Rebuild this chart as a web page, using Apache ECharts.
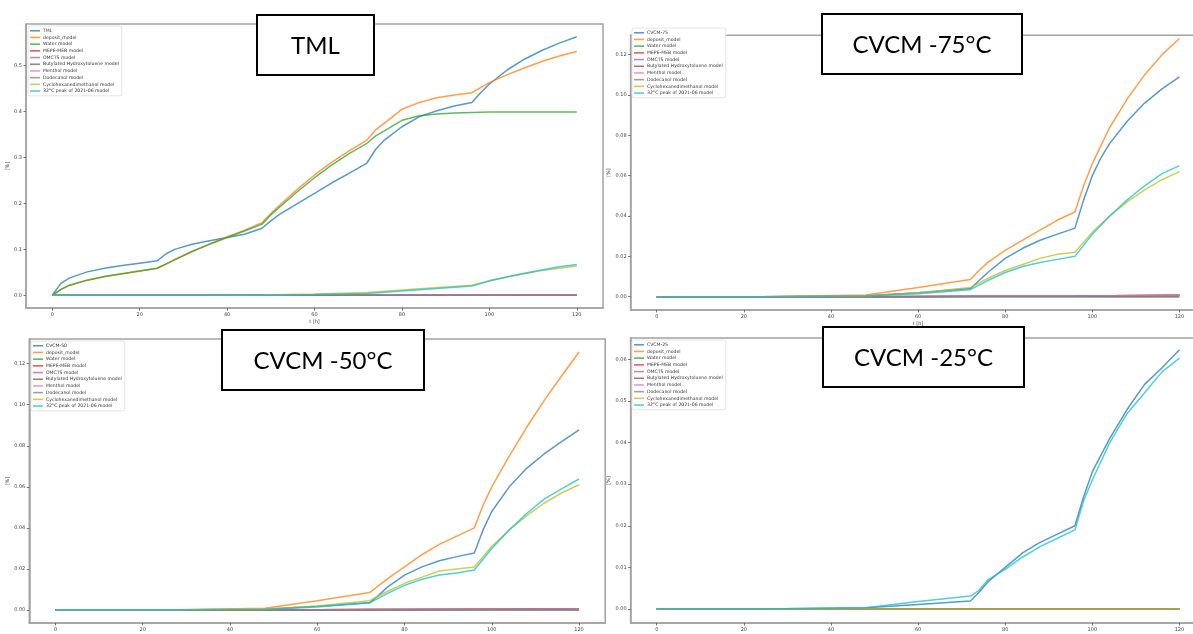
<!DOCTYPE html>
<html>
<head>
<meta charset="utf-8">
<script src="https://cdn.jsdelivr.net/npm/echarts@6/dist/echarts.min.js"></script>
<style>
  html, body { margin: 0; padding: 0; background: #ffffff; }
  #chart { width: 1193px; height: 634px; }
</style>
</head>
<body>
<div id="chart"></div>
<script>
// Model curve names shared by all four panels (after the measured curve)
const modelNames = [
  'deposit_model', 'Water model', 'MEPE-MEB model', 'OMCTS model',
  'Butylated Hydroxytoluene model', 'Menthol model', 'Dodecanol model',
  'Cyclohexanedimethanol model', '32°C peak of 2021-06 model'
];
const palette = ['#1f77b4', '#ff7f0e', '#2ca02c', '#d62728', '#9467bd',
                 '#8c564b', '#e377c2', '#7f7f7f', '#bcbd22', '#17becf'];

const xTicks = [0, 20, 40, 60, 80, 100, 120];
const yTicksTml = [0, 0.1, 0.2, 0.3, 0.4, 0.5];
const yTicks75 = [0, 0.02, 0.04, 0.06, 0.08, 0.10, 0.12];
const yTicks50 = [0, 0.02, 0.04, 0.06, 0.08, 0.10, 0.12];
const yTicks25 = [0, 0.01, 0.02, 0.03, 0.04, 0.05, 0.06];

// A model that stays at zero for the whole run
const flatZero = [[0, 0], [120, 0]];

// ---- TML [%] vs t [h]
const tmlMeasured = [[0,0],[2,0.026],[4,0.038],[8,0.051],[12,0.059],[16,0.065],[20,0.070],[24,0.075],
  [26,0.090],[28,0.100],[32,0.111],[36,0.119],[40,0.126],[44,0.133],[48,0.146],[50,0.162],[52,0.176],
  [56,0.199],[60,0.222],[64,0.245],[68,0.266],[72,0.288],[74,0.318],[76,0.338],[80,0.367],[84,0.389],
  [88,0.402],[92,0.412],[96,0.420],[98,0.441],[100,0.460],[104,0.490],[108,0.514],[112,0.533],
  [116,0.549],[120,0.563]];
const tmlDeposit = [[0,0],[2,0.013],[4,0.022],[8,0.033],[12,0.041],[16,0.047],[20,0.053],[24,0.059],
  [26,0.068],[28,0.078],[32,0.096],[36,0.112],[40,0.127],[44,0.142],[48,0.158],[50,0.178],[52,0.196],
  [56,0.230],[60,0.262],[64,0.290],[68,0.315],[72,0.338],[74,0.360],[76,0.375],[80,0.405],[84,0.420],
  [88,0.430],[92,0.436],[96,0.441],[98,0.452],[100,0.463],[104,0.480],[108,0.495],[112,0.509],
  [116,0.521],[120,0.531]];
const tmlWater = [[0,0],[2,0.013],[4,0.022],[8,0.033],[12,0.041],[16,0.047],[20,0.053],[24,0.059],
  [26,0.068],[28,0.077],[32,0.095],[36,0.111],[40,0.126],[44,0.140],[48,0.155],[50,0.175],[52,0.192],
  [56,0.225],[60,0.256],[64,0.284],[68,0.309],[72,0.331],[74,0.347],[76,0.358],[80,0.381],[84,0.391],
  [88,0.395],[92,0.397],[96,0.398],[100,0.399],[120,0.399]];
const tmlCyclo = [[0,0],[24,0],[48,0.0005],[60,0.003],[72,0.006],[84,0.014],[96,0.022],[100,0.032],
  [104,0.040],[108,0.047],[112,0.054],[116,0.059],[120,0.064]];
const tmlPeak32 = [[0,0],[24,0],[48,0.0003],[60,0.002],[72,0.004],[84,0.012],[96,0.020],[100,0.031],
  [104,0.040],[108,0.048],[112,0.055],[116,0.062],[120,0.067]];

// ---- CVCM at -75 °C
const cvcm75Measured = [[0,0],[24,0],[48,0.0005],[60,0.002],[72,0.004],[74,0.008],[76,0.012],[80,0.019],
  [84,0.024],[88,0.028],[92,0.031],[96,0.034],[98,0.048],[100,0.060],[102,0.069],[104,0.076],
  [108,0.087],[112,0.096],[116,0.103],[120,0.109]];
const cvcm75Deposit = [[0,0],[24,0],[48,0.0008],[60,0.0045],[72,0.0085],[74,0.013],[76,0.017],[80,0.023],
  [84,0.028],[88,0.033],[92,0.038],[96,0.042],[98,0.055],[100,0.066],[104,0.084],[108,0.098],
  [112,0.110],[116,0.120],[120,0.128]];
const cvcm75Trace = [[0,0],[48,0],[72,0.0002],[96,0.0004],[120,0.0007]];
const cvcm75Cyclo = [[0,0],[24,0],[48,0.0005],[60,0.002],[72,0.0045],[76,0.009],[80,0.013],[84,0.016],
  [88,0.019],[92,0.021],[96,0.022],[100,0.032],[104,0.040],[108,0.047],[112,0.053],[116,0.058],[120,0.062]];
const cvcm75Peak32 = [[0,0],[24,0],[48,0.0003],[60,0.0015],[72,0.0035],[76,0.008],[80,0.012],[84,0.015],
  [88,0.017],[92,0.0185],[96,0.020],[100,0.031],[104,0.040],[108,0.048],[112,0.055],[116,0.061],[120,0.065]];

// ---- CVCM at -50 °C
const cvcm50Measured = [[0,0],[24,0],[48,0.0004],[60,0.0018],[72,0.0035],[74,0.007],[76,0.011],[80,0.017],
  [84,0.021],[88,0.024],[92,0.026],[96,0.0278],[98,0.039],[100,0.048],[104,0.060],[108,0.069],
  [112,0.076],[116,0.082],[120,0.0877]];
const cvcm50Deposit = [[0,0],[24,0],[48,0.0008],[60,0.0045],[72,0.0085],[76,0.015],[80,0.021],[84,0.027],
  [88,0.032],[92,0.036],[96,0.040],[98,0.051],[100,0.060],[104,0.075],[108,0.089],[112,0.102],
  [116,0.114],[120,0.1257]];
const cvcm50Trace = [[0,0],[48,0],[72,0.0002],[96,0.0004],[120,0.0006]];
const cvcm50Cyclo = [[0,0],[24,0],[48,0.0005],[60,0.002],[72,0.0045],[76,0.009],[80,0.013],[84,0.016],
  [88,0.019],[92,0.020],[96,0.021],[100,0.031],[104,0.039],[108,0.046],[112,0.052],[116,0.057],[120,0.061]];
const cvcm50Peak32 = [[0,0],[24,0],[48,0.0003],[60,0.0015],[72,0.0035],[76,0.008],[80,0.012],[84,0.015],
  [88,0.017],[92,0.018],[96,0.0195],[100,0.030],[104,0.039],[108,0.047],[112,0.054],[116,0.059],[120,0.0638]];

// ---- CVCM at -25 °C
const cvcm25Measured = [[0,0],[24,0],[48,0.0003],[60,0.0011],[72,0.0019],[74,0.004],[76,0.0065],[80,0.010],
  [84,0.0135],[88,0.016],[92,0.018],[96,0.020],[98,0.027],[100,0.033],[104,0.041],[108,0.048],
  [112,0.054],[116,0.058],[120,0.0623]];
const cvcm25Peak32 = [[0,0],[24,0],[48,0.0003],[60,0.0018],[72,0.0031],[74,0.0045],[76,0.007],[80,0.0095],
  [84,0.0125],[88,0.015],[92,0.017],[96,0.019],[98,0.026],[100,0.031],[104,0.040],[108,0.047],
  [112,0.052],[116,0.057],[120,0.0603]];

// Per-panel layout: frame box in px, axis ranges, tick labels
const panels = [
  { measured: 'TML', title: 'TML', box: [257, 15, 117, 60],
    grid: { left: 26, top: 24, width: 577, height: 284 },
    x: [-6, 126], y: [-0.02765, 0.5907], yTicks: yTicksTml, dec: 1, nameGap: 8,
    legend: { left: 28, top: 26 },
    curves: [tmlMeasured, tmlDeposit, tmlWater, flatZero, flatZero, flatZero, flatZero, flatZero, tmlCyclo, tmlPeak32] },
  { measured: 'CVCM-75', title: 'CVCM -75°C', box: [822, 14, 200, 60],
    grid: { left: 630.6, top: 35.3, width: 575, height: 274.7 },
    x: [-6, 126], y: [-0.0066, 0.1296], yTicks: yTicks75, dec: 2, nameGap: 12,
    legend: { left: 632, top: 28 },
    curves: [cvcm75Measured, cvcm75Deposit, flatZero, cvcm75Trace, cvcm75Trace, cvcm75Trace, cvcm75Trace, flatZero, cvcm75Cyclo, cvcm75Peak32] },
  { measured: 'CVCM-50', title: 'CVCM -50°C', box: [222, 330, 202, 60],
    grid: { left: 29.3, top: 339, width: 575.9, height: 284 },
    x: [-6, 126], y: [-0.00633, 0.1320], yTicks: yTicks50, dec: 2, nameGap: 13,
    legend: { left: 31, top: 341 },
    curves: [cvcm50Measured, cvcm50Deposit, flatZero, cvcm50Trace, cvcm50Trace, cvcm50Trace, cvcm50Trace, flatZero, cvcm50Cyclo, cvcm50Peak32] },
  { measured: 'CVCM-25', title: 'CVCM -25°C', box: [823, 327, 201, 60],
    grid: { left: 630.6, top: 338, width: 575, height: 285 },
    x: [-6, 126], y: [-0.00337, 0.06514], yTicks: yTicks25, dec: 2, nameGap: 12,
    legend: { left: 632, top: 340 },
    curves: [cvcm25Measured, flatZero, flatZero, flatZero, flatZero, flatZero, flatZero, flatZero, flatZero, cvcm25Peak32] }
];

const frameColor = '#a3a3a3';
const tickFont = { fontSize: 5, color: '#444', fontFamily: 'DejaVu Sans' };

const grids = [], xAxes = [], yAxes = [], legends = [], series = [], graphics = [];

panels.forEach((p, i) => {
  grids.push(Object.assign({ show: true, borderColor: frameColor, borderWidth: 1.5,
    backgroundColor: 'transparent', containLabel: false, outerBoundsMode: 'none' }, p.grid));

  xAxes.push({
    type: 'value', gridIndex: i, min: p.x[0], max: p.x[1],
    name: 't [h]', nameLocation: 'middle', nameGap: 11,
    nameTextStyle: { fontSize: 5, color: '#444', fontFamily: 'DejaVu Sans' },
    axisLine: { show: true, onZero: false, lineStyle: { color: frameColor, width: 1.5 } },
    axisTick: { show: true, length: 2.5, customValues: xTicks, lineStyle: { color: '#555', width: 0.8 } },
    axisLabel: Object.assign({ margin: 4, customValues: xTicks, formatter: v => String(v) }, tickFont),
    splitLine: { show: false }
  });

  yAxes.push({
    type: 'value', gridIndex: i, min: p.y[0], max: p.y[1],
    name: '[%]', nameLocation: 'middle', nameRotate: 90, nameGap: p.nameGap,
    nameTextStyle: { fontSize: 5, color: '#444', fontFamily: 'DejaVu Sans' },
    axisLine: { show: true, onZero: false, lineStyle: { color: frameColor, width: 1.5 } },
    axisTick: { show: true, length: 2.5, customValues: p.yTicks, lineStyle: { color: '#555', width: 0.8 } },
    axisLabel: Object.assign({ margin: 4, customValues: p.yTicks, formatter: v => v.toFixed(p.dec) }, tickFont),
    splitLine: { show: false }
  });

  const names = [p.measured].concat(modelNames);
  legends.push({
    left: p.legend.left, top: p.legend.top, orient: 'vertical',
    data: names, icon: 'rect', itemWidth: 10, itemHeight: 1.6, itemGap: 1.2,
    padding: [2, 3, 2, 2],
    backgroundColor: '#ffffff', borderColor: '#dddddd', borderWidth: 0.8, borderRadius: 2,
    textStyle: { fontSize: 4.6, lineHeight: 5.5, color: '#333', fontFamily: 'DejaVu Sans', padding: [0, 0, 0, -2] },
    z: 10
  });

  p.curves.forEach((data, k) => {
    series.push({
      name: names[k], type: 'line', xAxisIndex: i, yAxisIndex: i, data: data,
      showSymbol: false, symbol: 'none', silent: true,
      lineStyle: { width: 1.5, color: palette[k], opacity: 0.75 },
      itemStyle: { color: palette[k], opacity: 0.75 },
      z: 2 + k * 0.01
    });
  });

  const [bx, by, bw, bh] = p.box;
  graphics.push({
    type: 'group', z: 100,
    children: [
      { type: 'rect', shape: { x: bx, y: by, width: bw, height: bh },
        style: { fill: '#ffffff', stroke: '#000000', lineWidth: 2 } },
      { type: 'text', style: { text: p.title, x: bx + bw / 2, y: by + bh / 2 + 1,
        align: 'center', verticalAlign: 'middle', fontSize: 24, fontFamily: 'Lato', fill: '#000' } }
    ]
  });
});

const chart = echarts.init(document.getElementById('chart'), null, { renderer: 'canvas' });
chart.setOption({
  animation: false,
  backgroundColor: '#ffffff',
  grid: grids, xAxis: xAxes, yAxis: yAxes, legend: legends, series: series,
  graphic: graphics
});
</script>
</body>
</html>
